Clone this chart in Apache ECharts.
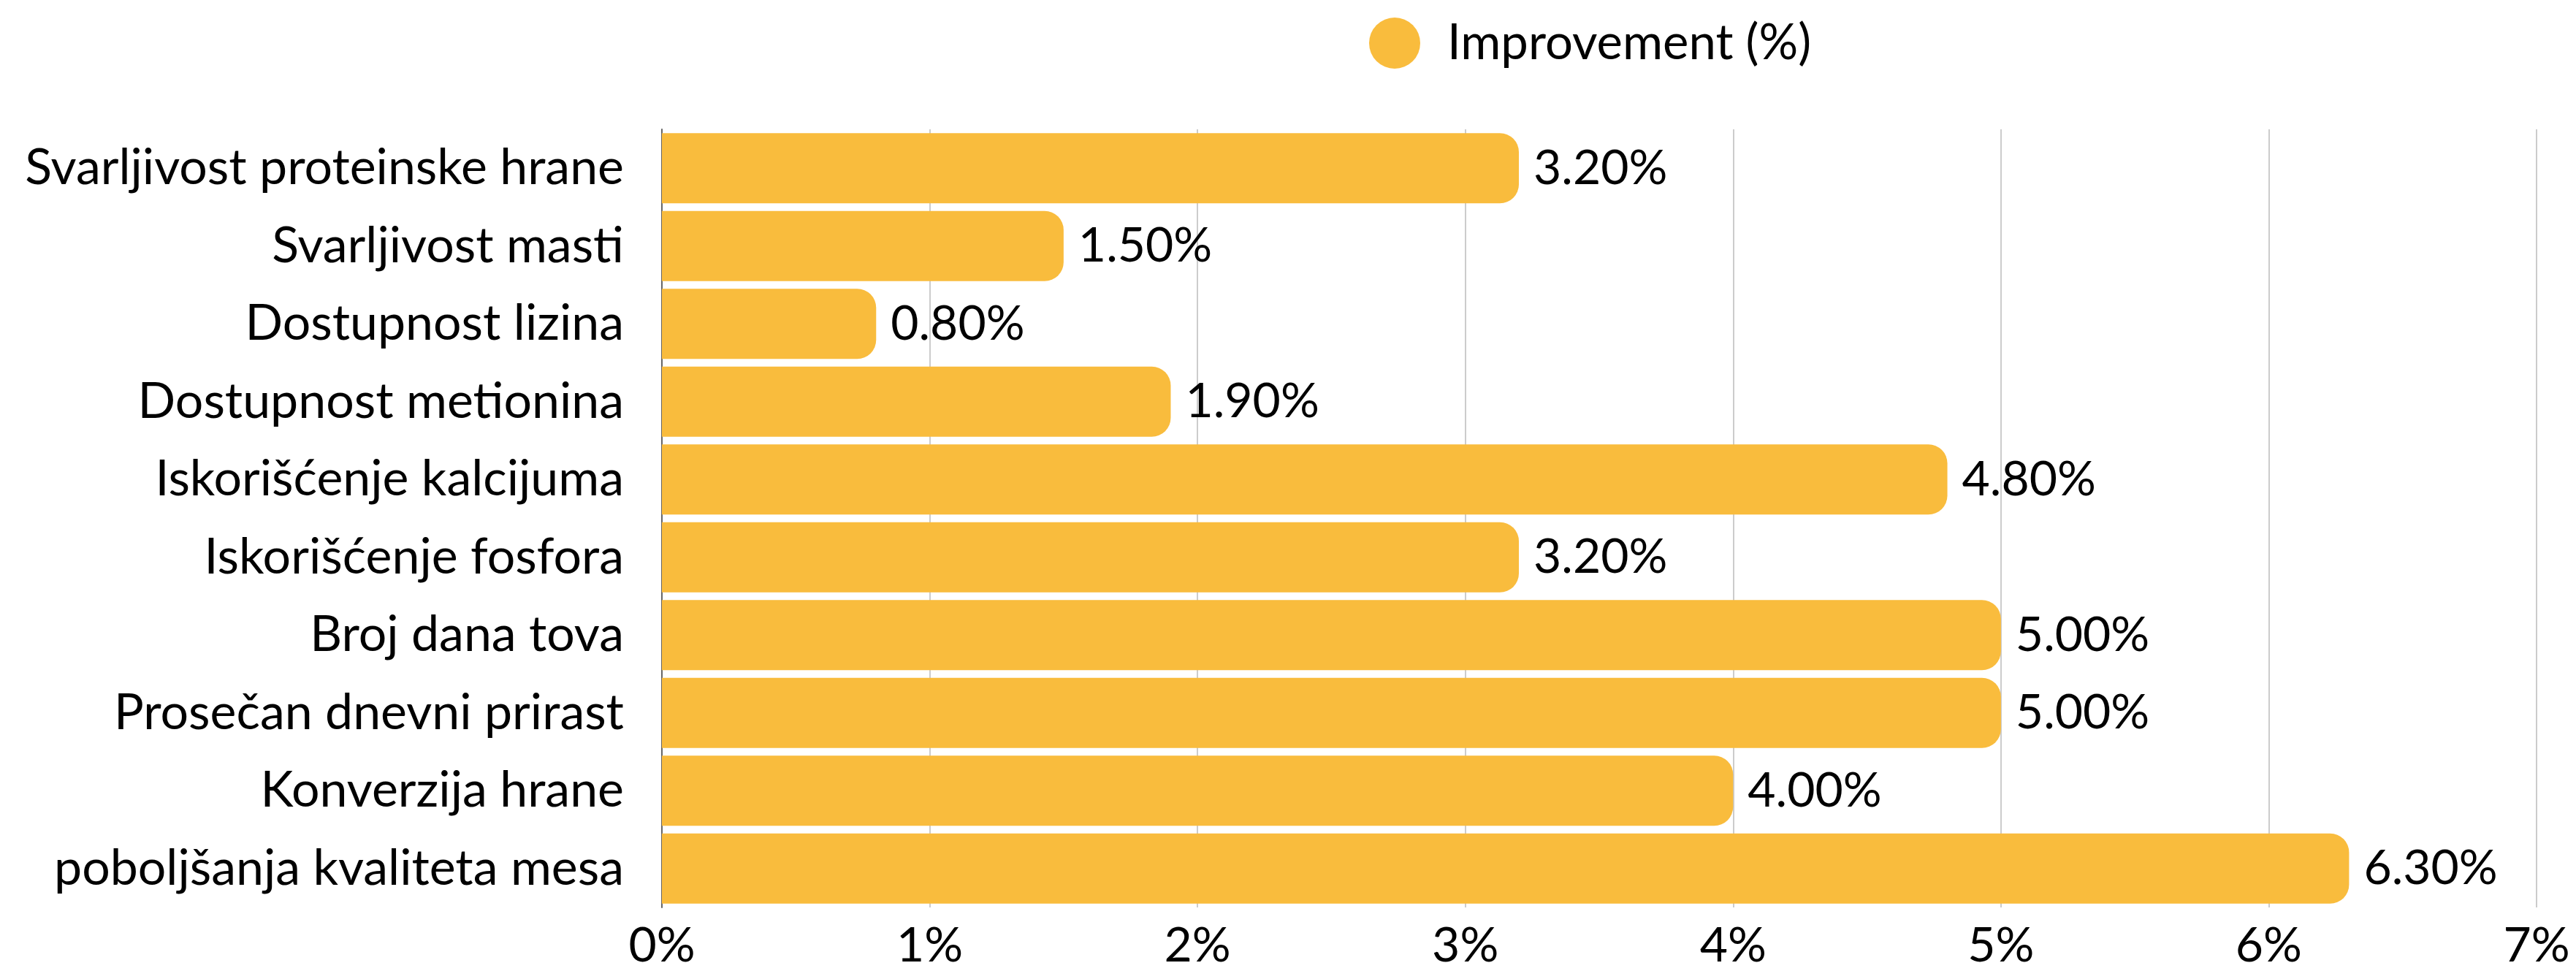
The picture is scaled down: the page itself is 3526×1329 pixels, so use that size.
<!DOCTYPE html>
<html>
<head>
<meta charset="utf-8">
<script src="https://cdn.jsdelivr.net/npm/echarts@6/dist/echarts.min.js"></script>
<style>
html,body{margin:0;padding:0;background:#fff;}
#chart{width:3526px;height:1329px;}
</style>
</head>
<body>
<div id="chart"></div>
<script>
const categories = [
  "Svarljivost proteinske hrane",
  "Svarljivost masti",
  "Dostupnost lizina",
  "Dostupnost metionina",
  "Iskorišćenje kalcijuma",
  "Iskorišćenje fosfora",
  "Broj dana tova",
  "Prosečan dnevni prirast",
  "Konverzija hrane",
  "poboljšanja kvaliteta mesa"
];
const improvement = [3.2, 1.5, 0.8, 1.9, 4.8, 3.2, 5.0, 5.0, 4.0, 6.3];
const seriesName = "Improvement (%)";
const xTicks = { min: 0, max: 7, interval: 1 };

const FONT = "Lato";
const chart = echarts.init(document.getElementById('chart'), null, { renderer: 'canvas' });
chart.setOption({
  animation: false,
  backgroundColor: '#ffffff',
  textStyle: { fontFamily: FONT },
  legend: {
    data: [{ name: seriesName, icon: 'circle' }],
    left: 1869,
    top: 19,
    itemWidth: 70,
    itemHeight: 70,
    itemGap: 20,
    textStyle: { fontFamily: FONT, fontSize: 67, color: '#000', padding: [0, 0, 0, 32] }
  },
  grid: { left: 906, right: 54, top: 177, bottom: 87, containLabel: false },
  xAxis: {
    type: 'value',
    min: xTicks.min,
    max: xTicks.max,
    interval: xTicks.interval,
    axisLine: { show: false },
    axisTick: { show: false },
    splitLine: { show: true, lineStyle: { color: '#cccccc', width: 2 } },
    axisLabel: {
      fontFamily: FONT, fontSize: 66, color: '#000', margin: 20,
      formatter: v => v + '%'
    }
  },
  yAxis: {
    type: 'category',
    data: categories,
    inverse: true,
    axisLine: { show: true, lineStyle: { color: '#666666', width: 2 } },
    axisTick: { show: false },
    axisLabel: { fontFamily: FONT, fontSize: 68, color: '#000', margin: 52 }
  },
  series: [{
    name: seriesName,
    type: 'bar',
    data: improvement,
    barWidth: 96,
    itemStyle: { color: '#F9BC3D', borderRadius: [0, 26, 26, 0] },
    label: {
      show: true,
      position: 'right',
      distance: 20,
      fontFamily: FONT,
      fontSize: 66,
      color: '#000',
      formatter: p => p.value.toFixed(2) + '%'
    }
  }]
});
</script>
</body>
</html>
